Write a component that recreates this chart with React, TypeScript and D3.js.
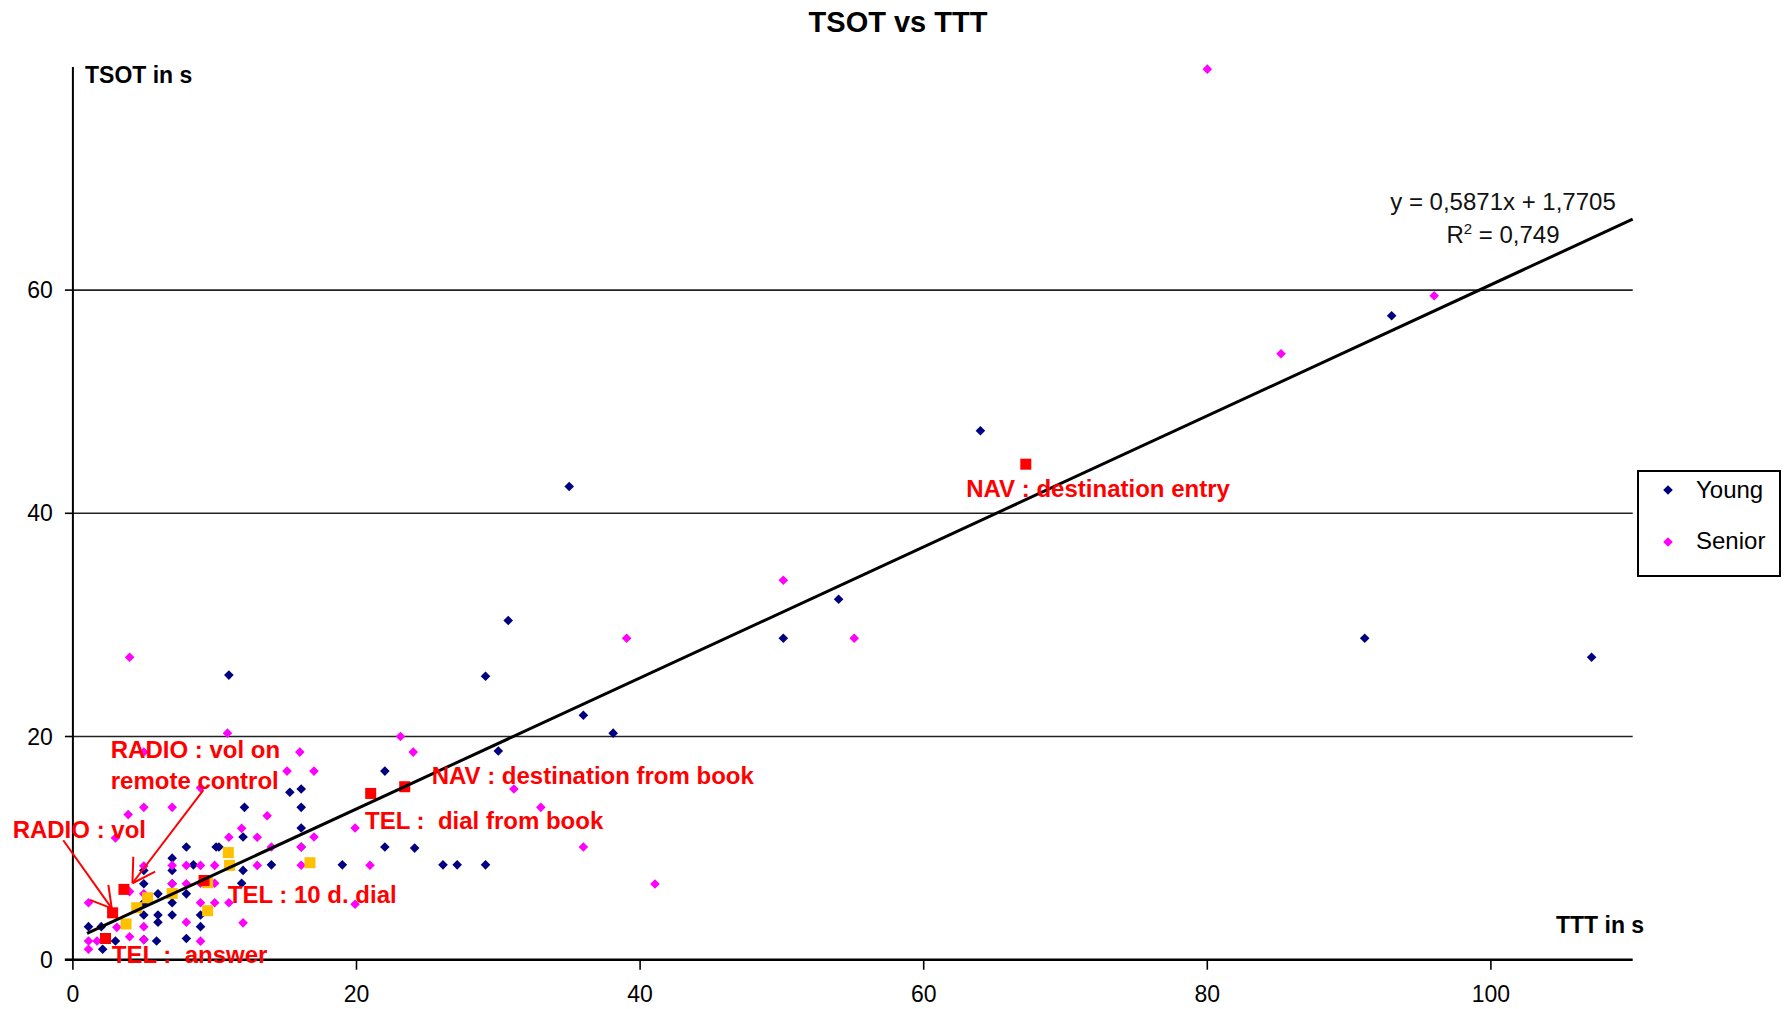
import React from "react";
import * as d3 from "d3";

const TITLE = "TSOT vs TTT";
const X_LABEL = "TTT in s";
const Y_LABEL = "TSOT in s";
const X_TICKS = [0, 20, 40, 60, 80, 100];
const Y_TICKS = [0, 20, 40, 60];
const GRID_Y = [20, 40, 60];

const youngPoints: [number, number][] = [
  [35.0, 42.4], [64.0, 47.4], [93.0, 57.7], [91.1, 28.8], [107.1, 27.1], [54.0, 32.3],
  [50.1, 28.8], [30.7, 30.4], [29.1, 25.4], [36.0, 21.9], [38.1, 20.3], [30.0, 18.7],
  [11.0, 25.5], [22.0, 16.9], [22.0, 10.1], [24.1, 10.0], [26.1, 8.5], [27.1, 8.5],
  [29.1, 8.5], [19.0, 8.5], [16.1, 15.3], [15.3, 15.0], [16.1, 13.65], [16.1, 11.8],
  [16.1, 10.1], [12.1, 13.65], [12.0, 11.0], [12.0, 8.0], [11.9, 6.85], [14.0, 8.5],
  [10.1, 10.1], [10.3, 10.1], [8.0, 10.1], [7.0, 9.1], [7.0, 8.0], [8.5, 8.5],
  [7.0, 6.8], [8.0, 5.9], [7.0, 5.1], [7.0, 4.0], [6.0, 5.9], [6.0, 4.0], [6.0, 3.35],
  [5.0, 8.0], [5.0, 6.8], [5.0, 5.1], [5.0, 4.0], [5.0, 1.8], [5.9, 1.67], [8.0, 1.9],
  [9.0, 4.0], [9.0, 2.96], [3.0, 1.67], [2.1, 0.93], [2.0, 2.96], [1.1, 2.96],
];

const seniorPoints: [number, number][] = [
  [80.0, 79.8], [96.0, 59.5], [85.2, 54.3], [50.1, 34.0], [55.1, 28.8], [39.05, 28.8],
  [4.0, 27.1], [10.9, 20.3], [23.1, 20.0], [24.0, 18.6], [31.1, 15.3], [33.0, 13.65],
  [36.0, 10.1], [41.05, 6.78], [16.0, 18.6], [17.0, 16.9], [15.1, 16.9], [17.0, 11.0],
  [19.9, 11.8], [16.1, 10.1], [16.1, 8.46], [20.95, 8.46], [19.9, 4.97], [9.0, 15.4],
  [5.0, 18.6], [3.9, 13.0], [5.0, 13.65], [7.0, 13.65], [3.0, 10.9], [13.7, 12.9],
  [11.9, 11.77], [11.0, 10.97], [13.0, 10.97], [14.0, 10.1], [7.0, 8.45], [8.0, 8.45],
  [9.0, 8.45], [10.0, 8.45], [13.0, 8.45], [11.0, 8.45], [5.0, 8.4], [1.1, 5.1],
  [7.0, 6.8], [8.0, 6.8], [9.0, 6.85], [10.0, 6.85], [9.0, 5.1], [10.0, 5.1], [11.0, 5.1],
  [8.0, 3.35], [12.0, 3.3], [9.0, 1.66], [5.0, 5.9], [4.0, 6.1], [3.1, 2.9], [1.1, 1.67],
  [1.1, 0.93], [1.7, 1.67], [4.0, 2.06], [5.0, 1.8], [5.0, 2.96],
];

const redTasks: [number, number][] = [
  [3.6, 6.3], [2.8, 4.2], [2.3, 1.9], [9.25, 7.1], [21.0, 14.9], [23.4, 15.5], [67.2, 44.4],
];

const yellowTasks: [number, number][] = [
  [3.75, 3.2], [4.5, 4.66], [5.27, 5.55], [7.0, 5.94], [10.96, 9.6], [11.05, 8.45],
  [9.5, 4.39], [16.72, 8.69], [9.5, 6.9],
];

const TREND_SLOPE = 0.5871;
const TREND_INTERCEPT = 1.7705;
const TREND_RANGE = [1, 110];
const EQUATION = "y = 0,5871x + 1,7705";
const R2_VALUE = "0,749";

const annotations: { text: string; x: number; y: number }[] = [
  { text: "NAV : destination entry", x: 63.0, y: 41.46 },
  { text: "NAV : destination from book", x: 25.3, y: 15.74 },
  { text: "TEL :  dial from book", x: 20.6, y: 11.68 },
  { text: "TEL : 10 d. dial", x: 10.92, y: 5.05 },
  { text: "TEL :  answer", x: 2.74, y: -0.27 },
  { text: "RADIO : vol", x: -4.25, y: 10.93 },
  { text: "RADIO : vol on", x: 2.67, y: 18.1 },
  { text: "remote control", x: 2.67, y: 15.27 },
];

// arrow segments in data coordinates
const arrowSegments: [number, number, number, number][] = [
  [-0.68, 10.7, 2.74, 4.6],
  [1.2, 5.36, 2.74, 4.6],
  [2.5, 6.7, 2.74, 4.6],
  [9.2, 15.2, 4.2, 6.85],
  [4.26, 9.23, 4.2, 6.85],
  [5.8, 7.9, 4.2, 6.85],
];

const FONT = "'Liberation Sans', Arial, sans-serif";

export default function App() {
  const W = 1785;
  const H = 1009;
  const x = d3.scaleLinear().domain([0, 110]).range([72.9, 72.9 + 110 * 14.18]);
  const y = d3.scaleLinear().domain([0, 80]).range([959.7, 959.7 - 80 * 11.16]);

  const r = 4.8;
  const diamond = `M0,${-r}L${r},0L0,${r}L${-r},0Z`;
  const trend = d3.line<number>()
    .x((v) => x(v))
    .y((v) => y(TREND_SLOPE * v + TREND_INTERCEPT))(TREND_RANGE);

  const sq = 11;

  return (
    <svg width={W} height={H} style={{ position: "absolute", left: 0, top: 0, display: "block", background: "#fff" }}>
      <rect width={W} height={H} fill="#fff" />
      {/* title */}
      <text x={898} y={32} textAnchor="middle" fontFamily={FONT} fontWeight="bold" fontSize={29}>{TITLE}</text>

      {/* gridlines */}
      {GRID_Y.map((g) => (
        <line key={g} x1={x(0)} x2={x(110)} y1={y(g)} y2={y(g)} stroke="#222" strokeWidth={1.6} />
      ))}

      {/* axes */}
      <line x1={x(0)} x2={x(0)} y1={y(0)} y2={y(80)} stroke="#000" strokeWidth={2} />
      <line x1={x(0) - 8} x2={x(110)} y1={y(0)} y2={y(0)} stroke="#000" strokeWidth={2.5} />
      {Y_TICKS.map((t) => (
        <g key={t}>
          <line x1={x(0) - 8} x2={x(0)} y1={y(t)} y2={y(t)} stroke="#000" strokeWidth={1.6} />
          <text x={x(0) - 20} y={y(t)} dy="0.35em" textAnchor="end" fontFamily={FONT} fontSize={23}>{t}</text>
        </g>
      ))}
      {X_TICKS.map((t) => (
        <g key={t}>
          <line x1={x(t)} x2={x(t)} y1={y(0)} y2={y(0) + 10} stroke="#000" strokeWidth={1.6} />
          <text x={x(t)} y={y(0) + 34} dy="0.35em" textAnchor="middle" fontFamily={FONT} fontSize={23}>{t}</text>
        </g>
      ))}
      <text x={85} y={83} fontFamily={FONT} fontWeight="bold" fontSize={23}>{Y_LABEL}</text>
      <text x={1556} y={933} fontFamily={FONT} fontWeight="bold" fontSize={23}>{X_LABEL}</text>

      {/* points */}
      {youngPoints.map((p, i) => (
        <path key={"y" + i} d={diamond} transform={`translate(${x(p[0])},${y(p[1])})`} fill="#000080" />
      ))}
      {seniorPoints.map((p, i) => (
        <path key={"s" + i} d={diamond} transform={`translate(${x(p[0])},${y(p[1])})`} fill="#FF00FF" />
      ))}
      {yellowTasks.map((p, i) => (
        <rect key={"o" + i} x={x(p[0]) - sq / 2} y={y(p[1]) - sq / 2} width={sq} height={sq} fill="#FFC000" />
      ))}
      {redTasks.map((p, i) => (
        <rect key={"r" + i} x={x(p[0]) - sq / 2} y={y(p[1]) - sq / 2} width={sq} height={sq} fill="#FF0000" />
      ))}

      {/* trendline */}
      <path d={trend!} fill="none" stroke="#000" strokeWidth={3} />
      <text x={1503} y={210} textAnchor="middle" fontFamily={FONT} fontSize={24} fill="#111">{EQUATION}</text>
      <text x={1503} y={243} textAnchor="middle" fontFamily={FONT} fontSize={24} fill="#111">
        R<tspan dy={-9} fontSize={15}>2</tspan><tspan dy={9}>{" = " + R2_VALUE}</tspan>
      </text>

      {/* annotations */}
      {arrowSegments.map((s, i) => (
        <line key={"a" + i} x1={x(s[0])} y1={y(s[1])} x2={x(s[2])} y2={y(s[3])} stroke="#FF0000" strokeWidth={2} />
      ))}
      {annotations.map((a, i) => (
        <text key={"t" + i} x={x(a.x)} y={y(a.y)} fontFamily={FONT} fontWeight="bold" fontSize={24} fill="#FF0000" style={{ whiteSpace: "pre" }}>{a.text}</text>
      ))}

      {/* legend */}
      <rect x={1638} y={471} width={142} height={105} fill="#fff" stroke="#000" strokeWidth={2} />
      <path d={diamond} transform="translate(1668,490)" fill="#000080" />
      <text x={1696} y={498} fontFamily={FONT} fontSize={24}>Young</text>
      <path d={diamond} transform="translate(1668,542)" fill="#FF00FF" />
      <text x={1696} y={549} fontFamily={FONT} fontSize={24}>Senior</text>
    </svg>
  );
}
